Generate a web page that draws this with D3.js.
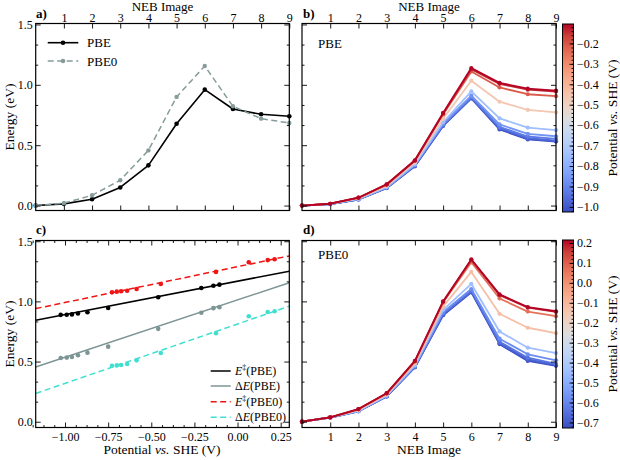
<!DOCTYPE html>
<html><head><meta charset="utf-8">
<script src="https://cdn.jsdelivr.net/npm/d3@7"></script>
<style>
body{margin:0;background:#fff}
svg{display:block}
text{font-family:"Liberation Serif","Times New Roman",serif;fill:#000}
</style>
</head><body><svg id="chart" width="620" height="460"></svg>
<script>
// ---------------- data ----------------
const images = [0, 1, 2, 3, 4, 5, 6, 7, 8, 9];
const imageTicks = [1, 2, 3, 4, 5, 6, 7, 8, 9];
const energyTicks = [0, 0.5, 1.0, 1.5];
const energyMinor = [1/6, 2/6, 4/6, 5/6, 7/6, 8/6];
const potentialTicks = [-1.0, -0.75, -0.5, -0.25, 0, 0.25];

// panel a
const neutralPBE  = [0, 0.014, 0.052, 0.150, 0.333, 0.678, 0.960, 0.800, 0.756, 0.740];
const neutralPBE0 = [0, 0.020, 0.085, 0.210, 0.457, 0.900, 1.156, 0.822, 0.720, 0.684];

// panel b (PBE paths at several potentials)
const potPBE = [-1.025, -0.99, -0.96, -0.925, -0.87, -0.75, -0.46, -0.21, -0.14, -0.105];
const pathsPBE = [
  [0, 0.012, 0.050, 0.145, 0.325, 0.660, 0.888, 0.630, 0.548, 0.530],
  [0, 0.012, 0.050, 0.146, 0.327, 0.662, 0.889, 0.636, 0.553, 0.533],
  [0, 0.012, 0.051, 0.147, 0.330, 0.665, 0.892, 0.642, 0.560, 0.538],
  [0, 0.012, 0.052, 0.148, 0.333, 0.670, 0.899, 0.652, 0.572, 0.552],
  [0, 0.013, 0.053, 0.150, 0.337, 0.678, 0.910, 0.672, 0.594, 0.574],
  [0, 0.013, 0.055, 0.153, 0.342, 0.690, 0.945, 0.722, 0.646, 0.624],
  [0, 0.014, 0.060, 0.163, 0.357, 0.720, 1.034, 0.860, 0.792, 0.772],
  [0, 0.015, 0.064, 0.172, 0.370, 0.755, 1.111, 0.978, 0.922, 0.906],
  [0, 0.015, 0.065, 0.175, 0.373, 0.763, 1.130, 1.008, 0.960, 0.944],
  [0, 0.015, 0.065, 0.176, 0.375, 0.767, 1.139, 1.016, 0.968, 0.952]
];

// panel d (PBE0 paths at several potentials)
const potPBE0 = [-0.728, -0.70, -0.675, -0.64, -0.585, -0.445, -0.125, 0.065, 0.175, 0.215];
const pathsPBE0 = [
  [0, 0.035, 0.087, 0.210, 0.452, 0.885, 1.075, 0.645, 0.505, 0.465],
  [0, 0.035, 0.087, 0.210, 0.453, 0.888, 1.081, 0.650, 0.512, 0.468],
  [0, 0.035, 0.088, 0.211, 0.455, 0.892, 1.084, 0.656, 0.520, 0.472],
  [0, 0.035, 0.088, 0.212, 0.457, 0.900, 1.089, 0.665, 0.532, 0.480],
  [0, 0.035, 0.089, 0.214, 0.460, 0.910, 1.103, 0.690, 0.560, 0.510],
  [0, 0.035, 0.090, 0.217, 0.468, 0.930, 1.145, 0.750, 0.615, 0.571],
  [0, 0.036, 0.097, 0.225, 0.485, 0.957, 1.245, 0.897, 0.781, 0.736],
  [0, 0.036, 0.103, 0.234, 0.500, 0.990, 1.325, 1.024, 0.915, 0.877],
  [0, 0.036, 0.105, 0.236, 0.504, 0.998, 1.343, 1.052, 0.948, 0.912],
  [0, 0.036, 0.105, 0.237, 0.505, 1.000, 1.350, 1.058, 0.953, 0.918]
];

// panel c (barriers and reaction energies vs potential)
const barrierPBE   = [0.888, 0.889, 0.892, 0.899, 0.910, 0.945, 1.034, 1.111, 1.130, 1.139];
const reactionPBE  = [0.530, 0.533, 0.538, 0.552, 0.574, 0.624, 0.772, 0.906, 0.944, 0.952];
const barrierPBE0  = [1.075, 1.081, 1.084, 1.089, 1.103, 1.145, 1.245, 1.325, 1.343, 1.350];
const reactionPBE0 = [0.465, 0.468, 0.472, 0.480, 0.510, 0.571, 0.736, 0.877, 0.912, 0.918];
const fitRange = [-1.17, 0.30];
const fitBarrierPBE   = [0.844, 1.251];
const fitReactionPBE  = [0.455, 1.155];
const fitBarrierPBE0  = [0.940, 1.378];
const fitReactionPBE0 = [0.235, 0.960];

const cbTicksPBE  = [-1.0, -0.9, -0.8, -0.7, -0.6, -0.5, -0.4, -0.3, -0.2];
const cbTicksPBE0 = [-0.7, -0.6, -0.5, -0.4, -0.3, -0.2, -0.1, 0.0, 0.1, 0.2];

// coolwarm colormap stops
const coolwarm = [
  [59,76,192],[77,104,215],[98,130,234],[119,154,247],[141,176,254],[163,194,255],
  [184,208,249],[204,217,238],[221,221,221],[236,211,197],[245,196,173],[247,177,148],
  [244,154,123],[236,127,99],[222,96,77],[203,62,56],[180,4,38]
];

// ---------------- drawing ----------------
const svg = d3.select("#chart");
const SERIF = '"Liberation Serif","Times New Roman",serif';
const AX = [35.7, 289.3], BX = [302, 556];
const TOPY = [210.5, 23.5], BOTY = [427.5, 240.5];

const xImgA = d3.scaleLinear().domain([0, 9]).range(AX);
const xImgB = d3.scaleLinear().domain([0, 9]).range(BX);
const yTop = d3.scaleLinear().domain([-0.041, 1.508]).range(TOPY);
const yBot = d3.scaleLinear().domain([-0.048, 1.506]).range(BOTY);
const xPot = d3.scaleLinear().domain(fitRange).range(AX);

const cmapScale = d3.scaleLinear()
  .domain(coolwarm.map((_, i) => i / (coolwarm.length - 1)))
  .range(coolwarm.map(c => `rgb(${c[0]},${c[1]},${c[2]})`))
  .interpolate(d3.interpolateRgb);

function axis(g, fn, scale, vals, size, fmt, transform, pad, fs) {
  const a = fn(scale).tickValues(vals).tickSize(size).tickPadding(pad).tickFormat(fmt || (() => ""));
  const ag = g.append("g").attr("transform", transform).call(a);
  ag.select(".domain").remove();
  ag.attr("font-family", SERIF).attr("font-size", fs || 12);
  ag.selectAll("line").attr("stroke", "#000").attr("stroke-width", 0.9);
  ag.selectAll("text").attr("fill", "#000");
  return ag;
}

function frame(x, y, o) {
  const g = svg.append("g");
  const [x0, x1] = x.range();
  const [yb, yt] = y.range();
  const fx = o.xfmt, fy = d3.format(".1f");
  axis(g, d3.axisBottom, x, o.xt, -5, o.bottomLabels ? fx : null, `translate(0,${yb})`, 5);
  axis(g, d3.axisTop, x, o.xt, -5, o.topLabels ? fx : null, `translate(0,${yt})`, 1.5);
  axis(g, d3.axisLeft, y, energyTicks, -5, o.leftLabels ? fy : null, `translate(${x0},0)`, 3);
  axis(g, d3.axisRight, y, energyTicks, -5, null, `translate(${x1},0)`, 3);
  axis(g, d3.axisLeft, y, energyMinor, -2.5, null, `translate(${x0},0)`, 3);
  axis(g, d3.axisRight, y, energyMinor, -2.5, null, `translate(${x1},0)`, 3);
  if (o.xminor) {
    axis(g, d3.axisBottom, x, o.xminor, -2.5, null, `translate(0,${yb})`, 5);
    axis(g, d3.axisTop, x, o.xminor, -2.5, null, `translate(0,${yt})`, 2);
  }
  g.append("rect").attr("x", x0).attr("y", yt).attr("width", x1 - x0).attr("height", yb - yt)
    .attr("fill", "none").attr("stroke", "#000").attr("stroke-width", 1.2);
  return g;
}

function series(g, x, y, xs, ys, color, opts) {
  const pts = xs.map((d, i) => [x(d), y(ys[i])]);
  g.append("path").attr("d", d3.line()(pts)).attr("fill", "none").attr("stroke", color)
    .attr("stroke-width", opts.w).attr("stroke-dasharray", opts.dash || null)
    .attr("stroke-linejoin", "round");
  g.selectAll(null).data(pts).enter().append("circle")
    .attr("cx", d => d[0]).attr("cy", d => d[1]).attr("r", opts.r).attr("fill", color);
}

const imgFmt = d3.format("d");
const potFmt = d3.format(".2f");
const potMinor = d3.range(-1.1875, 0.31, 0.0625).filter(v => Math.abs(v / 0.25 - Math.round(v / 0.25)) > 1e-6);

// Panel a
const ga = svg.append("g");
frame(xImgA, yTop, { xt: imageTicks, xfmt: imgFmt, topLabels: true, leftLabels: true });
series(ga, xImgA, yTop, images, neutralPBE, "#000", { w: 1.6, r: 2.3 });
series(ga, xImgA, yTop, images, neutralPBE0, "#869c9b", { w: 1.5, r: 2.2, dash: "6,3.5" });
// legend a
const legA = [["PBE", "#000", null, 42.7], ["PBE0", "#869c9b", "6,3.5", 61]];
legA.forEach(([t, c, dash, yy]) => {
  svg.append("line").attr("x1", 47.7).attr("x2", 78.3).attr("y1", yy).attr("y2", yy)
    .attr("stroke", c).attr("stroke-width", 1.6).attr("stroke-dasharray", dash);
  svg.append("circle").attr("cx", 63).attr("cy", yy).attr("r", 2.3).attr("fill", c);
  svg.append("text").attr("x", 87).attr("y", yy + 4.5).attr("font-size", 13).text(t);
});

// Panel b
const gb = svg.append("g");
frame(xImgB, yTop, { xt: imageTicks, xfmt: imgFmt, topLabels: true, leftLabels: false });
const extPBE = d3.extent(potPBE);
pathsPBE.forEach((p, i) => {
  const c = cmapScale((potPBE[i] - extPBE[0]) / (extPBE[1] - extPBE[0]));
  series(gb, xImgB, yTop, images, p, c, { w: 1.8, r: 2.1 });
});
svg.append("text").attr("x", 318).attr("y", 47.7).attr("font-size", 13).text("PBE");

// Panel c
const gc = svg.append("g");
frame(xPot, yBot, { xt: potentialTicks, xfmt: potFmt, bottomLabels: true, leftLabels: true, xminor: potMinor });
const fitLines = [
  [fitBarrierPBE, "#000", null],
  [fitReactionPBE, "#7d9594", null],
  [fitBarrierPBE0, "#f01414", "6,3.5"],
  [fitReactionPBE0, "#40e0d0", "6,3.5"]
];
fitLines.forEach(([ys, c, dash]) => {
  gc.append("path").attr("d", d3.line()(fitRange.map((v, i) => [xPot(v), yBot(ys[i])])))
    .attr("fill", "none").attr("stroke", c).attr("stroke-width", 1.5).attr("stroke-dasharray", dash);
});
const cPts = [
  [potPBE, barrierPBE, "#000"], [potPBE, reactionPBE, "#7d9594"],
  [potPBE0, barrierPBE0, "#f01414"], [potPBE0, reactionPBE0, "#40e0d0"]
];
cPts.forEach(([xs, ys, c]) => {
  gc.selectAll(null).data(xs).enter().append("circle")
    .attr("cx", d => xPot(d)).attr("cy", (d, i) => yBot(ys[i])).attr("r", 2.3).attr("fill", c);
});
// legend c
const legC = [
  ["Ets", "PBE", "#000", null, 371],
  ["dE", "PBE", "#7d9594", null, 386],
  ["Ets", "PBE0", "#f01414", "6,3.5", 401.7],
  ["dE", "PBE0", "#40e0d0", "6,3.5", 417.3]
];
legC.forEach(([k, m, c, dash, yy]) => {
  svg.append("line").attr("x1", 210.7).attr("x2", 230.7).attr("y1", yy).attr("y2", yy)
    .attr("stroke", c).attr("stroke-width", 1.5).attr("stroke-dasharray", dash);
  const t = svg.append("text").attr("x", 235).attr("y", yy + 4).attr("font-size", 12);
  if (k === "Ets") {
    t.append("tspan").attr("font-style", "italic").text("E");
    t.append("tspan").attr("font-size", 8).attr("dy", -5).text("‡");
    t.append("tspan").attr("dy", 5).text(`(${m})`);
  } else {
    t.append("tspan").text("Δ");
    t.append("tspan").attr("font-style", "italic").text("E");
    t.append("tspan").text(`(${m})`);
  }
});

// Panel d
const gd = svg.append("g");
frame(xImgB, yBot, { xt: imageTicks, xfmt: imgFmt, bottomLabels: true, leftLabels: false });
const extPBE0 = d3.extent(potPBE0);
pathsPBE0.forEach((p, i) => {
  const c = cmapScale((potPBE0[i] - extPBE0[0]) / (extPBE0[1] - extPBE0[0]));
  series(gd, xImgB, yBot, images, p, c, { w: 1.8, r: 2.1 });
});
svg.append("text").attr("x", 318).attr("y", 259).attr("font-size", 13).text("PBE0");

// Colorbars
const defs = svg.append("defs");
const grad = defs.append("linearGradient").attr("id", "cw").attr("x1", 0).attr("y1", 1).attr("x2", 0).attr("y2", 0);
coolwarm.forEach((c, i) => grad.append("stop").attr("offset", i / (coolwarm.length - 1))
  .attr("stop-color", `rgb(${c[0]},${c[1]},${c[2]})`));

function colorbar(ext, ticks, y0, y1, labelY) {
  const x0 = 562.5, w = 11;
  const s = d3.scaleLinear().domain(ext).range([y1, y0]);
  svg.append("rect").attr("x", x0).attr("y", y0).attr("width", w).attr("height", y1 - y0).attr("fill", "url(#cw)");
  const minor = d3.range(Math.ceil(ext[0] / 0.02) * 0.02, ext[1] + 1e-9, 0.02);
  const g = svg.append("g");
  axis(g, d3.axisRight, s, minor, -2, null, `translate(${x0 + w},0)`, 3);
  axis(g, d3.axisRight, s, ticks, -4, d3.format(".1f"), `translate(${x0 + w},0)`, 3, 12);
  svg.append("rect").attr("x", x0).attr("y", y0).attr("width", w).attr("height", y1 - y0)
    .attr("fill", "none").attr("stroke", "#000").attr("stroke-width", 1);
  g.selectAll("text").attr("x", 3.5);
  const t = svg.append("text").attr("transform", `translate(612,${labelY}) rotate(-90)`)
    .attr("text-anchor", "middle").attr("font-size", 13.5).attr("dy", "0.35em");
  t.append("tspan").text("Potential ");
  t.append("tspan").attr("font-style", "italic").text("vs.");
  t.append("tspan").text(" SHE (V)");
}
colorbar(extPBE, cbTicksPBE, 24, 212, 118);
colorbar(extPBE0, cbTicksPBE0, 240, 428, 334);

// axis titles and panel labels
svg.append("text").attr("x", (AX[0] + AX[1]) / 2).attr("y", 10.5).attr("text-anchor", "middle").attr("font-size", 13).text("NEB Image");
svg.append("text").attr("x", (BX[0] + BX[1]) / 2).attr("y", 10.5).attr("text-anchor", "middle").attr("font-size", 13).text("NEB Image");
svg.append("text").attr("x", (BX[0] + BX[1]) / 2).attr("y", 454).attr("text-anchor", "middle").attr("font-size", 13.5).text("NEB Image");
const xl = svg.append("text").attr("x", 162).attr("y", 454).attr("text-anchor", "middle").attr("font-size", 13.5);
xl.append("tspan").text("Potential ");
xl.append("tspan").attr("font-style", "italic").text("vs.");
xl.append("tspan").text(" SHE (V)");
[[117, "a"], [334, "c"]].forEach(([yy]) => {
  svg.append("text").attr("transform", `translate(9,${yy}) rotate(-90)`).attr("text-anchor", "middle")
    .attr("dy", "0.35em").attr("font-size", 13.5).text("Energy (eV)");
});
[["a)", 36, 18], ["b)", 303, 18], ["c)", 36, 234], ["d)", 303, 234]].forEach(([t, x, y]) => {
  svg.append("text").attr("x", x).attr("y", y).attr("font-size", 13).attr("font-weight", "bold").text(t);
});
</script>
</body></html>
